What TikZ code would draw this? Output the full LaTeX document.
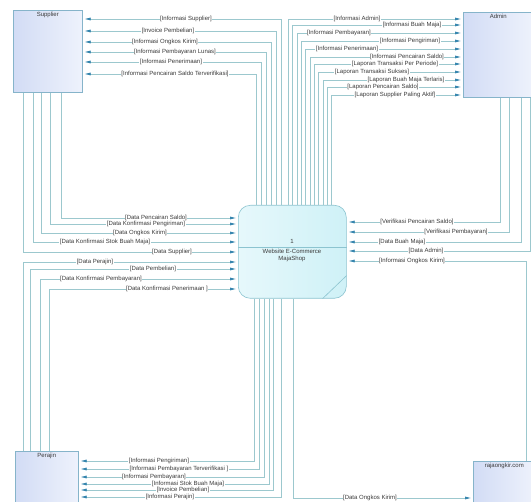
\documentclass[tikz,border=0pt]{standalone}
\usepackage{fontspec}
\setmainfont{Liberation Sans}
\usetikzlibrary{arrows.meta}
\definecolor{flowLine}{HTML}{9CC8CE}
\definecolor{flowTip}{HTML}{2B7FAA}
\definecolor{entEdge}{HTML}{86B4CA}
\definecolor{entLeft}{HTML}{D2DCF5}
\definecolor{entRight}{HTML}{EEF2FC}
\definecolor{procEdge}{HTML}{8CC4D0}
\definecolor{procLeft}{HTML}{E6F8FB}
\definecolor{procRight}{HTML}{CFF1F7}
\definecolor{dfdText}{HTML}{3A3A3A}
\newcommand{\dfdFont}{\fontsize{6}{7}\selectfont}

\begin{document}
\begin{tikzpicture}[x=1pt,y=-1pt,
  entity/.style={draw=entEdge, line width=0.6pt, left color=entLeft, right color=entRight, anchor=north west, inner sep=0pt},
  entname/.style={font=\dfdFont, text=dfdText, inner sep=2pt, anchor=north},
  flow/.style={draw=flowLine, line width=0.6pt, -{Latex[length=6pt,width=3pt,color=flowTip]}, shorten >=2pt},
  flowlbl/.style={font=\dfdFont, text=dfdText, fill=white, inner sep=0.5pt}]
\useasboundingbox[fill=white] (0,0) rectangle (531,502);
\clip (0,0) rectangle (531,502);

% external entities
\node[entity, minimum width=69pt, minimum height=82pt] (sup) at (13,10) {};
\node[entname] (supname) at (sup.north) {Supplier};
\node[entity, minimum width=70pt, minimum height=85pt] (adm) at (463,12) {};
\node[entname] (admname) at (adm.north) {Admin};
\node[entity, minimum width=63pt, minimum height=60pt] (per) at (15,451) {};
\node[entname] (pername) at (per.north) {Perajin};
\node[entity, minimum width=62pt, minimum height=50pt] (raja) at (473,461) {};
\node[entname] (rajaname) at (raja.north) {rajaongkir.com};

% process
\node[draw=procEdge, line width=0.6pt, rounded corners=12pt, left color=procLeft, right color=procRight,
  minimum width=108pt, minimum height=93pt, anchor=north west, inner sep=0pt] (proc) at (238,205) {};
\draw[procEdge, line width=0.6pt] (proc.west |- 0,247) -- (proc.east |- 0,247);
\draw[procEdge, line width=0.6pt] ([xshift=-24pt]proc.south east) -- ([yshift=23pt]proc.south east);
\node[entname, anchor=base] (pnum) at (292,244) {1};
\node[entname, inner sep=0pt, align=center] (pname) at (292,249) {Website E-Commerce\\MajaShop};

% process -> supplier
\foreach \vx/\ry/\lx/\txt [count=\i] in {281/19/186/Informasi Supplier, 276/31/168/Invoice Pembelian,
  271/42/165/Informasi Ongkos Kirim, 266/52/175/Informasi Pembayaran Lunas,
  261/62/171/Informasi Penerimaan, 256/74/175/Informasi Pencairan Saldo Terverifikasi}{
  \draw[flow] (proc.north -| \vx,0) |- (sup.east |- 0,\ry);
  \node[flowlbl] (so\i) at (\lx,\ry) {[\txt]};
}

% process -> admin
\foreach \vx/\ry/\lx/\txt [count=\i] in {288/19/357/Informasi Admin, 292/25/412/Informasi Buah Maja,
  297/33/339/Informasi Pembayaran, 301/41/410/Informasi Pengiriman, 305/49/347/Informasi Penerimaan,
  310/57/407/Informasi Pencairan Saldo, 314/64/395/Laporan Transaksi Per Periode,
  318/72/372/Laporan Transaksi Sukses, 323/80/406/Laporan Buah Maja Terlaris,
  327/87/383/Laporan Pencairan Saldo, 331/95/395/Laporan Supplier Paling Aktif}{
  \draw[flow] (proc.north -| \vx,0) |- (adm.west |- 0,\ry);
  \node[flowlbl] (ao\i) at (\lx,\ry) {[\txt]};
}

% supplier -> process
\foreach \vx/\ry/\lx/\txt [count=\i] in {61/218/156/Data Pencairan Saldo, 50/224/146/Data Konfirmasi Pengiriman,
  41/233/140/Data Ongkos Kirim, 33/242/105/Data Konfirmasi Stok Buah Maja, 23/252/172/Data Supplier}{
  \draw[flow] (sup.south -| \vx,0) |- (proc.west |- 0,\ry);
  \node[flowlbl] (si\i) at (\lx,\ry) {[\txt]};
}

% perajin -> process
\foreach \vx/\ry/\lx/\txt [count=\i] in {23/262/95/Data Perajin, 30/269/153/Data Pembelian,
  40/279/101/Data Konfirmasi Pembayaran, 49/289/167/Data Konfirmasi Penerimaan\ }{
  \draw[flow] (per.north -| \vx,0) |- (proc.west |- 0,\ry);
  \node[flowlbl] (pi\i) at (\lx,\ry) {[\txt]};
}

% admin -> process
\foreach \vx/\ry/\lx/\txt [count=\i] in {500/222/417/Verifikasi Pencairan Saldo, 509/232/456/Verifikasi Pembayaran,
  521/242/402/Data Buah Maja, 530/251/426/Data Admin}{
  \draw[flow] (adm.south -| \vx,0) |- (proc.east |- 0,\ry);
  \node[flowlbl] (ai\i) at (\lx,\ry) {[\txt]};
}

% rajaongkir <-> process
\draw[flow] (raja.north -| 526,0) |- (proc.east |- 0,261);
\node[flowlbl] (ri) at (412,261) {[Informasi Ongkos Kirim]};
\draw[flow] (proc.south -| 293,0) |- (raja.west |- 0,498);
\node[flowlbl] (ro) at (370,498) {[Data Ongkos Kirim]};

% process -> perajin
\foreach \vx/\ry/\lx/\txt [count=\i] in {254/461/159/Informasi Pengiriman, 259/469/179/Informasi Pembayaran Terverifikasi\ ,
  264/477/154/Informasi Pembayaran, 269/484/188/Informasi Stok Buah Maja,
  273/490/183/Invoice Pembelian, 281/497/170/Informasi Perajin}{
  \draw[flow] (proc.south -| \vx,0) |- (per.east |- 0,\ry);
  \node[flowlbl] (po\i) at (\lx,\ry) {[\txt]};
}
\end{tikzpicture}
\end{document}
